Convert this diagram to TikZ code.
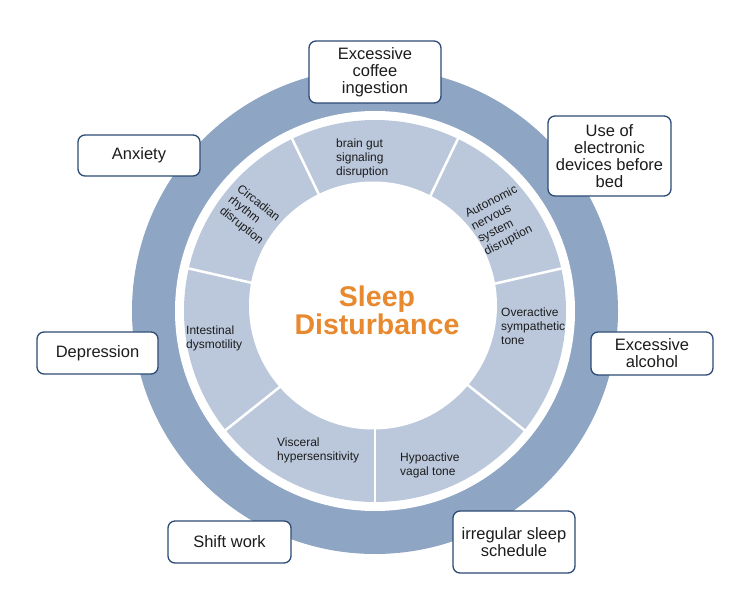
\documentclass[tikz,border=0pt]{standalone}
\usepackage{fontspec}
\setmainfont{Liberation Sans}
\definecolor{ringdark}{HTML}{8EA5C4}
\definecolor{seglight}{HTML}{BBC8DC}
\definecolor{boxline}{HTML}{2C4B76}
\definecolor{textc}{HTML}{1C1C1C}
\definecolor{sleeporange}{HTML}{E8892F}
\begin{document}
\begin{tikzpicture}[x=1pt,y=1pt,
  factor/.style={draw=boxline, line width=1.3pt, fill=white, rounded corners=7pt,
    align=center, inner sep=0pt, font=\fontsize{16.5}{17}\selectfont, text=textc},
  seglabel/.style={align=left, inner sep=0pt, font=\fontsize{12}{14}\selectfont, text=textc},
  divider/.style={white, line width=2.5pt}]
\useasboundingbox (0,0) rectangle (750,614);
\coordinate (c) at (375,303);
% rings
\fill[ringdark] (c) circle (243);
\fill[white] (c) circle (200);
\fill[seglight] (c) circle (191);
\fill[white] (373,308.5) circle (124);
\foreach \a in {0,...,6}
  \draw[divider] ([shift={({-90+\a*360/7}:110)}]c) -- ([shift={({-90+\a*360/7}:195)}]c);
% segment labels
\node[seglabel, anchor=west] (brain) at (336,456) {brain gut\\signaling\\disruption};
\node[seglabel, rotate=-38.6] (circ) at (250,399) {Circadian\\rhythm\\disruption};
\node[seglabel, rotate=27] (auto) at (501,393) {Autonomic\\nervous\\system\\disruption};
\node[seglabel, anchor=west] (intest) at (186,276) {Intestinal\\dysmotility};
\node[seglabel, anchor=west] (visc) at (277,164) {Visceral\\hypersensitivity};
\node[seglabel, anchor=west] (hypo) at (400,149) {Hypoactive\\vagal tone};
\node[seglabel, anchor=west] (over) at (501,288) {Overactive\\sympathetic\\tone};
% centre title
\node[align=center, inner sep=0pt, text=sleeporange, font=\fontsize{28.5}{28}\selectfont\bfseries] (title) at (377,303.5) {Sleep\\Disturbance};
% factor boxes
\node[factor, minimum width=132, minimum height=62] (coffee) at (375,542) {Excessive\\coffee\\ingestion};
\node[factor, minimum width=123, minimum height=80] (elec) at (609.5,458) {Use of\\electronic\\devices before\\bed};
\node[factor, minimum width=122, minimum height=41] (anx) at (139,458.5) {Anxiety};
\node[factor, minimum width=121, minimum height=42] (dep) at (97.5,261) {Depression};
\node[factor, minimum width=123, minimum height=42] (shift) at (229.5,72) {Shift work};
\node[factor, minimum width=122, minimum height=43] (alc) at (652,260.5) {Excessive\\alcohol};
\node[factor, minimum width=122, minimum height=62] (irr) at (514,72) {irregular sleep\\schedule};
\end{tikzpicture}
\end{document}
